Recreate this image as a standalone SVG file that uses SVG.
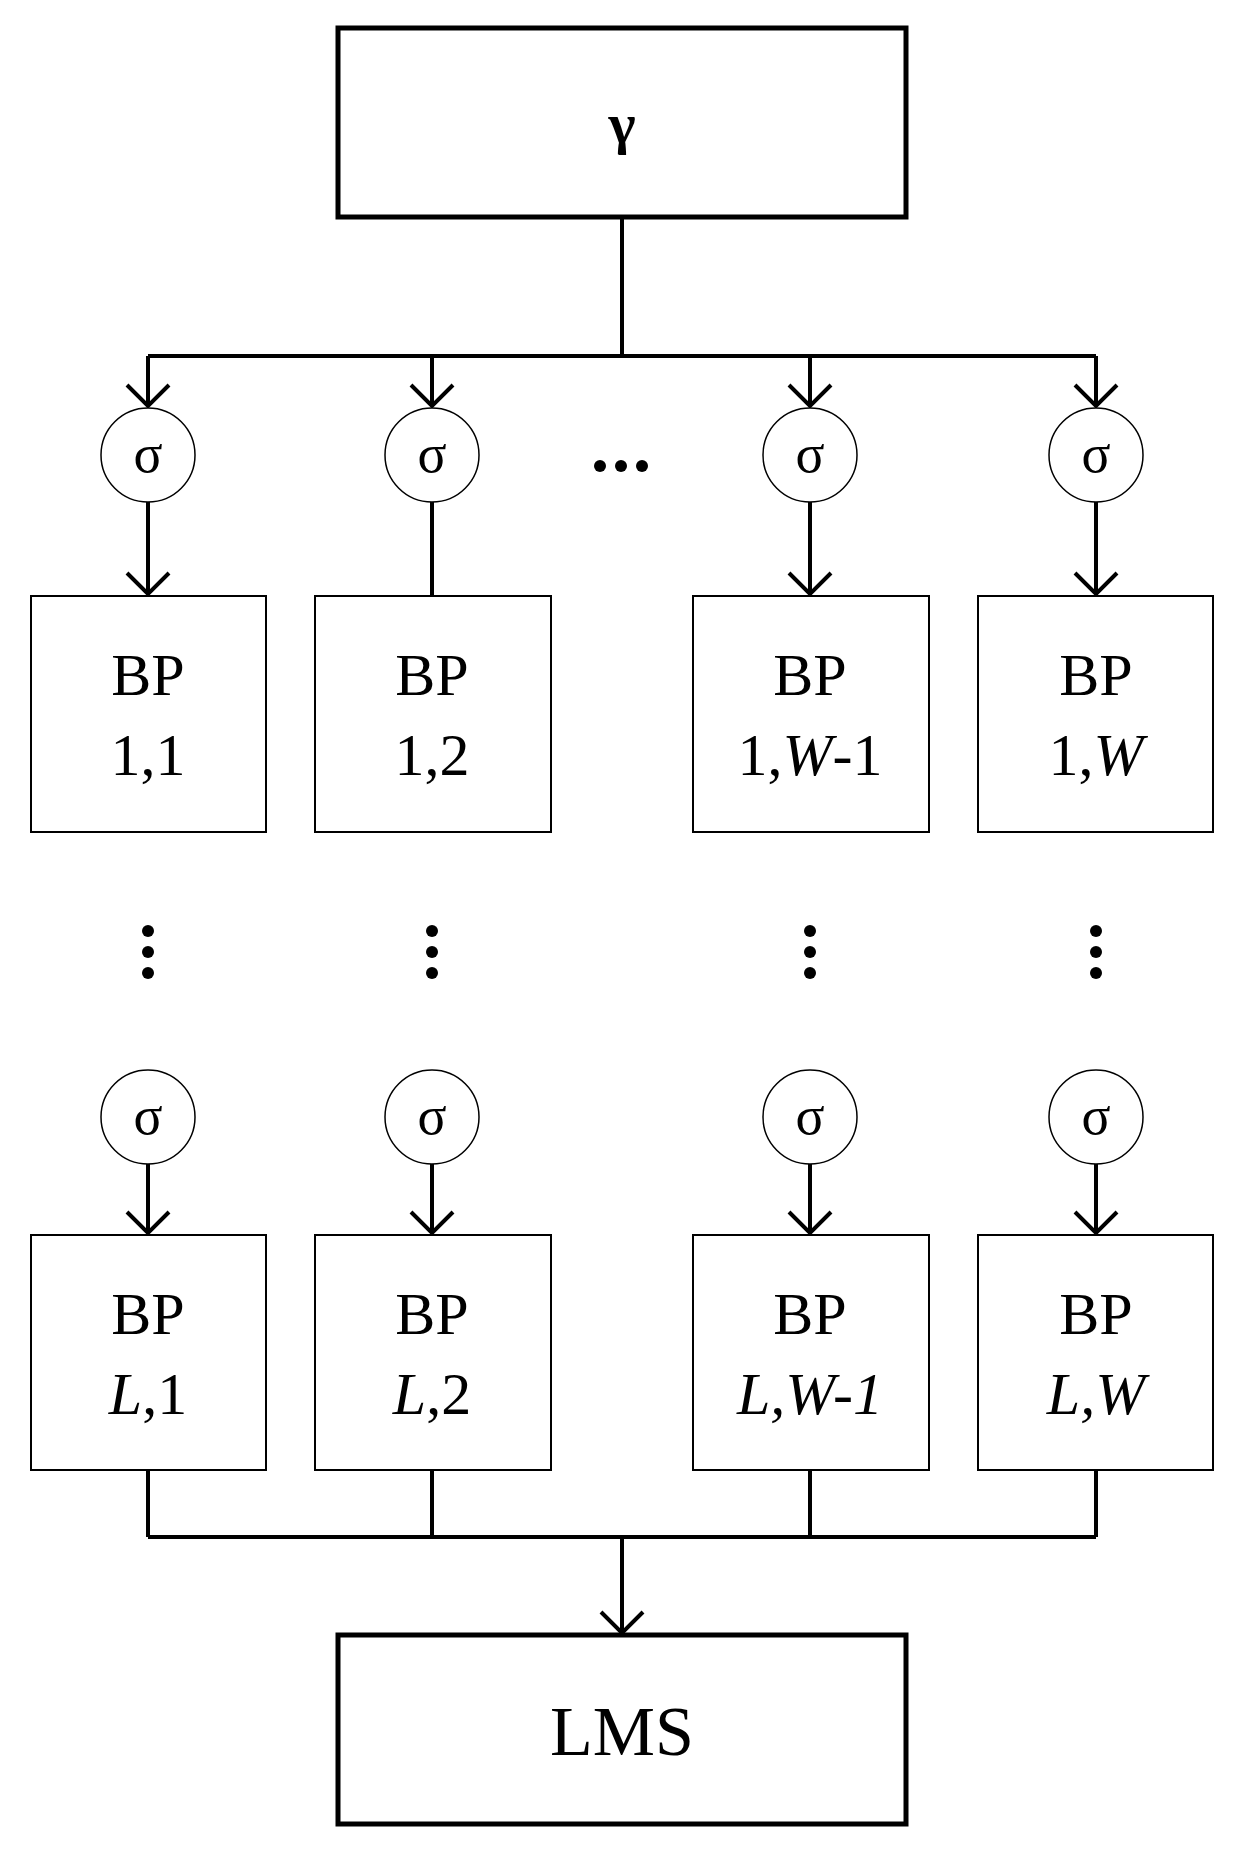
<svg xmlns="http://www.w3.org/2000/svg" width="1244" height="1856" viewBox="0 0 1244 1856">
<style>
.thick{fill:#fff;stroke:#000;stroke-width:5}
.box{fill:#fff;stroke:#000;stroke-width:2}
.c{fill:#fff;stroke:#000;stroke-width:1.5}
.ln{fill:none;stroke:#000;stroke-width:4}
text{font-family:"Liberation Serif",serif;text-anchor:middle;fill:#000}
.t{font-size:60px}
.s{font-size:54px}
</style>
<rect width="1244" height="1856" fill="#fff"/>
<g id="connectors" class="ln">
<path d="M622 217V356M148 356H1096"/>
<path d="M148 356V406M432 356V406M810 356V406M1096 356V406"/>
<path d="M127 385L148 406L169 385M411 385L432 406L453 385M789 385L810 406L831 385M1075 385L1096 406L1117 385"/>
<path d="M148 502V594M432 502V596M810 502V594M1096 502V594"/>
<path d="M127 573L148 594L169 573M789 573L810 594L831 573M1075 573L1096 594L1117 573"/>
<path d="M148 1164V1233M432 1164V1233M810 1164V1233M1096 1164V1233"/>
<path d="M127 1212L148 1233L169 1212M411 1212L432 1233L453 1212M789 1212L810 1233L831 1212M1075 1212L1096 1233L1117 1212"/>
<path d="M148 1470V1537M432 1470V1537M810 1470V1537M1096 1470V1537M148 1537H1096M622 1537V1633"/>
<path d="M601 1612L622 1633L643 1612"/>
</g>
<g id="gamma"><rect class="thick" x="338" y="28" width="568" height="189"/><text x="622" y="143" font-size="58" font-weight="bold" font-family="DejaVu Serif, serif">γ</text></g>
<g id="lms"><rect class="thick" x="338" y="1635" width="568" height="189"/><text x="622" y="1755" font-size="70">LMS</text></g>
<g id="sigmas">
<circle class="c" cx="148" cy="455" r="47"/><text class="s" x="148" y="472">σ</text>
<circle class="c" cx="432" cy="455" r="47"/><text class="s" x="432" y="472">σ</text>
<circle class="c" cx="810" cy="455" r="47"/><text class="s" x="810" y="472">σ</text>
<circle class="c" cx="1096" cy="455" r="47"/><text class="s" x="1096" y="472">σ</text>
<circle class="c" cx="148" cy="1117" r="47"/><text class="s" x="148" y="1134">σ</text>
<circle class="c" cx="432" cy="1117" r="47"/><text class="s" x="432" y="1134">σ</text>
<circle class="c" cx="810" cy="1117" r="47"/><text class="s" x="810" y="1134">σ</text>
<circle class="c" cx="1096" cy="1117" r="47"/><text class="s" x="1096" y="1134">σ</text>
</g>
<g id="row1">
<rect class="box" x="31" y="596" width="235" height="236"/><text class="t" x="148" y="695">BP</text><text class="t" x="148" y="775">1,1</text>
<rect class="box" x="315" y="596" width="236" height="236"/><text class="t" x="432" y="695">BP</text><text class="t" x="432" y="775">1,2</text>
<rect class="box" x="693" y="596" width="236" height="236"/><text class="t" x="810" y="695">BP</text><text class="t" x="810" y="775">1,<tspan font-style="italic">W</tspan>-1</text>
<rect class="box" x="978" y="596" width="235" height="236"/><text class="t" x="1096" y="695">BP</text><text class="t" x="1096" y="775">1,<tspan font-style="italic">W</tspan></text>
</g>
<g id="row2">
<rect class="box" x="31" y="1235" width="235" height="235"/><text class="t" x="148" y="1334">BP</text><text class="t" x="148" y="1414"><tspan font-style="italic">L</tspan>,1</text>
<rect class="box" x="315" y="1235" width="236" height="235"/><text class="t" x="432" y="1334">BP</text><text class="t" x="432" y="1414"><tspan font-style="italic">L</tspan>,2</text>
<rect class="box" x="693" y="1235" width="236" height="235"/><text class="t" x="810" y="1334">BP</text><text class="t" x="810" y="1414" font-style="italic">L,W-1</text>
<rect class="box" x="978" y="1235" width="235" height="235"/><text class="t" x="1096" y="1334">BP</text><text class="t" x="1096" y="1414" font-style="italic">L,W</text>
</g>
<g id="dots" fill="#000">
<circle cx="600" cy="466" r="6"/><circle cx="621" cy="466" r="6"/><circle cx="642" cy="466" r="6"/>
<circle cx="148" cy="931" r="6"/><circle cx="148" cy="952" r="6"/><circle cx="148" cy="973" r="6"/>
<circle cx="432" cy="931" r="6"/><circle cx="432" cy="952" r="6"/><circle cx="432" cy="973" r="6"/>
<circle cx="810" cy="931" r="6"/><circle cx="810" cy="952" r="6"/><circle cx="810" cy="973" r="6"/>
<circle cx="1096" cy="931" r="6"/><circle cx="1096" cy="952" r="6"/><circle cx="1096" cy="973" r="6"/>
</g>
</svg>
